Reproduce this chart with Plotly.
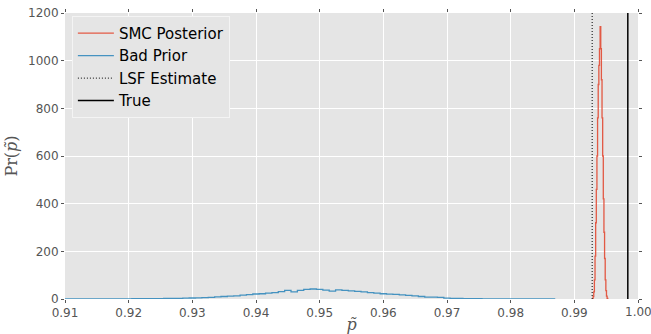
import numpy as np
import plotly.graph_objects as go

# SMC posterior histogram (bin centres, density)
smc_x = [0.9929, 0.9930, 0.9931, 0.9932, 0.9933, 0.9934, 0.9935, 0.9936, 0.9937,
         0.9938, 0.9939, 0.9940, 0.9941, 0.9942, 0.9943, 0.9944, 0.9945, 0.9946,
         0.9947, 0.9948, 0.9949, 0.9950, 0.9951, 0.9952, 0.9953]
smc_y = [0, 10, 30, 80, 180, 320, 460, 600, 760,
         900, 980, 1050, 1143, 1050, 920, 760, 600, 420,
         280, 170, 80, 35, 12, 3, 0]

# Bad prior histogram (bin centres, density)
prior_x = [round(0.910 + 0.001 * i, 3) for i in range(78)]
prior_y = [0.1, 0.1, 0.2, 0.2, 0.3, 0.3, 0.4, 0.5, 0.6, 0.7,
           0.8, 1.0, 1.1, 1.3, 1.6, 1.9, 2.2, 2.6, 3.0, 3.5,
           4.2, 5.0, 6.0, 7.2, 8.8, 10.5, 12.0, 13.5, 16.0, 18.5,
           21, 22, 24.5, 27, 31, 36, 30, 36, 40, 42,
           40, 37, 33, 38, 36, 34, 32, 30, 27, 24.5,
           22, 20.5, 19, 17.5, 15, 13, 10.5, 8, 7.5, 6.5,
           4, 3, 2.4, 1.8, 1.3, 1.0, 0.8, 0.6, 0.45, 0.35,
           0.25, 0.2, 0.15, 0.1, 0.08, 0.05, 0.03, 0.02]

lsf_estimate = 0.9928
true_value = 0.9984

x_ticks = [0.91, 0.92, 0.93, 0.94, 0.95, 0.96, 0.97, 0.98, 0.99, 1.00]
y_ticks = [0, 200, 400, 600, 800, 1000, 1200]
y_max = 1200

tick_font = dict(family="DejaVu Sans", size=12, color="#555555")

fig = go.Figure()
fig.add_trace(go.Scatter(x=smc_x, y=smc_y, mode="lines", name="SMC Posterior",
                         line=dict(color="#E24A33", width=1.3, shape="hvh"), opacity=0.9))
fig.add_trace(go.Scatter(x=prior_x, y=prior_y, mode="lines", name="Bad Prior",
                         line=dict(color="#348ABD", width=1.3, shape="hvh"), opacity=0.9))
fig.add_trace(go.Scatter(x=[lsf_estimate, lsf_estimate], y=[0, y_max], mode="lines",
                         name="LSF Estimate", line=dict(color="black", width=1, dash="1px,2px")))
fig.add_trace(go.Scatter(x=[true_value, true_value], y=[0, y_max], mode="lines",
                         name="True", line=dict(color="black", width=1.5)))

axis_common = dict(showgrid=True, gridcolor="white", gridwidth=1, zeroline=False,
                   showline=False, ticks="outside", ticklen=3, tickcolor="#555555",
                   mirror="ticks", automargin=False, tickfont=tick_font)

# The last x label sits on the page edge, where the axis would drop it,
# so it is written as an annotation at the same tick position.
x_ticktext = [f"{v:.2f}" for v in x_ticks[:-1]] + [""]

fig.update_layout(
    width=651, height=334,
    margin=dict(l=65, r=13, t=13, b=35),
    paper_bgcolor="white", plot_bgcolor="#E5E5E5",
    showlegend=True,
    legend=dict(x=0.012, y=0.99, xanchor="left", yanchor="top",
                bgcolor="#E5E5E5", bordercolor="#F4F4F4", borderwidth=1,
                font=dict(family="DejaVu Sans", size=15, color="black"),
                tracegroupgap=0, itemwidth=36),
    xaxis=dict(range=[0.91, 1.00], tickvals=x_ticks, ticktext=x_ticktext,
               title=dict(text="<i>p̃</i>", font=dict(family="DejaVu Serif", size=16, color="#555555"),
                          standoff=2),
               **axis_common),
    yaxis=dict(range=[0, y_max], tickvals=y_ticks,
               title=dict(text="Pr(<i>p̃</i>)", font=dict(family="DejaVu Serif", size=16, color="#555555"),
                          standoff=6),
               **axis_common),
    annotations=[dict(x=x_ticks[-1], y=0, xref="x", yref="y", text=f"{x_ticks[-1]:.2f}",
                      showarrow=False, xanchor="center", yanchor="top", yshift=-4,
                      font=tick_font)],
)

fig.write_html("out.html")
